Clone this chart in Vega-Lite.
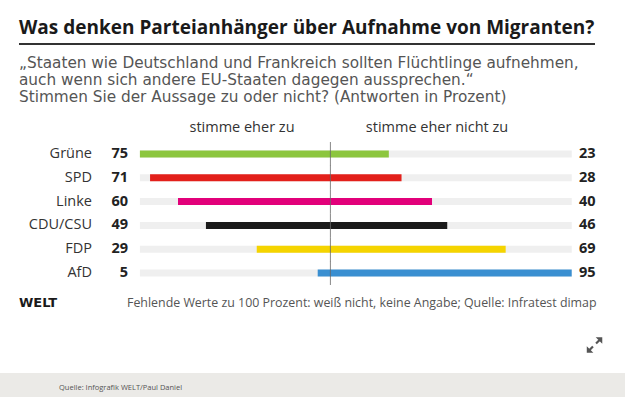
{
  "$schema": "https://vega.github.io/schema/vega-lite/v6.json",
  "width": 625,
  "height": 397,
  "autosize": {"type": "fit", "contains": "padding"},
  "padding": 0,
  "background": "white",
  "config": {"view": {"stroke": null}, "axis": {"disable": true}, "legend": {"disable": true}, "text": {"font": "Open Sans"}},
  "data": {"values": [
    {"party": "Grüne", "zu": 75, "nicht": 23},
    {"party": "SPD", "zu": 71, "nicht": 28},
    {"party": "Linke", "zu": 60, "nicht": 40},
    {"party": "CDU/CSU", "zu": 49, "nicht": 46},
    {"party": "FDP", "zu": 29, "nicht": 69},
    {"party": "AfD", "zu": 5, "nicht": 95}
  ]},
  "resolve": {"scale": {"x": "independent"}},
  "layer": [
    {
      "mark": {"type": "bar", "height": 7, "color": "#efefef"},
      "encoding": {
        "x": {"datum": -75, "type": "quantitative", "scale": {"domain": [-130.08, 115.98]}},
        "x2": {"datum": 95},
        "y": {"field": "party", "type": "nominal", "scale": {"type": "band", "domain": ["Grüne", "SPD", "Linke", "CDU/CSU", "FDP", "AfD"], "range": [142.1, 284.9], "paddingInner": 0, "paddingOuter": 0}}
      }
    },
    {
      "mark": {"type": "bar", "height": 7},
      "encoding": {
        "x": {"field": "nicht", "type": "quantitative", "scale": {"domain": [-130.08, 115.98]}},
        "y": {"field": "party", "type": "nominal"},
        "color": {"field": "party", "type": "nominal", "scale": {"domain": ["Grüne", "SPD", "Linke", "CDU/CSU", "FDP", "AfD"], "range": ["#8cc63e", "#e3201b", "#e2007a", "#1a1a1a", "#f5d400", "#3a8fd1"]}}
      }
    },
    {
      "mark": {"type": "bar", "height": 7},
      "encoding": {
        "x": {"field": "zu", "type": "quantitative", "scale": {"domain": [-115.98, 130.08], "reverse": true}},
        "y": {"field": "party", "type": "nominal"},
        "color": {"field": "party", "type": "nominal"}
      }
    },
    {
      "mark": {"type": "tick", "orient": "vertical", "size": 23.9, "thickness": 1, "color": "#555555"},
      "encoding": {
        "x": {"datum": 0, "type": "quantitative", "scale": {"domain": [-130.08, 115.98]}},
        "y": {"field": "party", "type": "nominal"}
      }
    },
    {
      "mark": {"type": "text", "align": "right", "baseline": "middle", "fontSize": 14.5, "color": "#333333"},
      "encoding": {
        "x": {"datum": -93.86, "type": "quantitative", "scale": {"domain": [-130.08, 115.98]}},
        "y": {"field": "party", "type": "nominal"},
        "text": {"field": "party"}
      }
    },
    {
      "mark": {"type": "text", "align": "right", "baseline": "middle", "fontSize": 14.5, "fontWeight": "bold", "color": "#222222"},
      "encoding": {
        "x": {"datum": -79.69, "type": "quantitative", "scale": {"domain": [-130.08, 115.98]}},
        "y": {"field": "party", "type": "nominal"},
        "text": {"field": "zu"}
      }
    },
    {
      "mark": {"type": "text", "align": "left", "baseline": "middle", "fontSize": 14.5, "fontWeight": "bold", "color": "#222222"},
      "encoding": {
        "x": {"datum": 97.87, "type": "quantitative", "scale": {"domain": [-130.08, 115.98]}},
        "y": {"field": "party", "type": "nominal"},
        "text": {"field": "nicht"}
      }
    },
    {
      "data": {"values": [{}]},
      "mark": {"type": "text", "align": "center", "baseline": "middle", "fontSize": 14.5, "color": "#333333", "dy": -26, "text": "stimme eher zu"},
      "encoding": {
        "x": {"datum": -34.8, "type": "quantitative", "scale": {"domain": [-130.08, 115.98]}},
        "y": {"datum": "Grüne", "type": "nominal"}
      }
    },
    {
      "data": {"values": [{}]},
      "mark": {"type": "text", "align": "center", "baseline": "middle", "fontSize": 14.5, "color": "#333333", "dy": -26, "text": "stimme eher nicht zu"},
      "encoding": {
        "x": {"datum": 41.97, "type": "quantitative", "scale": {"domain": [-130.08, 115.98]}},
        "y": {"datum": "Grüne", "type": "nominal"}
      }
    },
    {
      "data": {"values": [{}]},
      "mark": {"type": "text", "align": "left", "baseline": "alphabetic", "fontSize": 19, "fontWeight": "bold", "color": "#1a1a1a", "dy": -120, "text": "Was denken Parteianhänger über Aufnahme von Migranten?"},
      "encoding": {
        "x": {"datum": -122.6, "type": "quantitative", "scale": {"domain": [-130.08, 115.98]}},
        "y": {"datum": "Grüne", "type": "nominal"}
      }
    },
    {
      "data": {"values": [{}]},
      "mark": {"type": "rule", "strokeWidth": 2, "color": "#333333", "yOffset": -110},
      "encoding": {
        "x": {"datum": -122.6, "type": "quantitative", "scale": {"domain": [-130.08, 115.98]}},
        "x2": {"datum": 104.17},
        "y": {"datum": "Grüne", "type": "nominal"}
      }
    },
    {
      "data": {"values": [{}]},
      "mark": {"type": "text", "align": "left", "baseline": "alphabetic", "font": "DejaVu Sans", "fontSize": 15.3, "lineHeight": 16.8, "color": "#555555", "dy": -86, "text": ["„Staaten wie Deutschland und Frankreich sollten Flüchtlinge aufnehmen,", "auch wenn sich andere EU-Staaten dagegen aussprechen.“", "Stimmen Sie der Aussage zu oder nicht? (Antworten in Prozent)"]},
      "encoding": {
        "x": {"datum": -122.6, "type": "quantitative", "scale": {"domain": [-130.08, 115.98]}},
        "y": {"datum": "Grüne", "type": "nominal"}
      }
    },
    {
      "data": {"values": [{}]},
      "mark": {"type": "text", "align": "left", "baseline": "middle", "fontSize": 13, "fontWeight": 900, "font": "DejaVu Sans", "color": "#1a1a1a", "dy": 30, "text": "WELT"},
      "encoding": {
        "x": {"datum": -122.6, "type": "quantitative", "scale": {"domain": [-130.08, 115.98]}},
        "y": {"datum": "AfD", "type": "nominal"}
      }
    },
    {
      "data": {"values": [{}]},
      "mark": {"type": "text", "align": "left", "baseline": "middle", "fontSize": 12.4, "color": "#555555", "dy": 30, "text": "Fehlende Werte zu 100 Prozent: weiß nicht, keine Angabe; Quelle: Infratest dimap"},
      "encoding": {
        "x": {"datum": -80.08, "type": "quantitative", "scale": {"domain": [-130.08, 115.98]}},
        "y": {"datum": "AfD", "type": "nominal"}
      }
    },
    {
      "data": {"values": [{}]},
      "mark": {"type": "point", "filled": true, "opacity": 1, "size": 240, "color": "#555555", "yOffset": 72, "shape": "M0.15,-1L1,-1L1,-0.15Z M0.55,-0.75L0.75,-0.55L0.3,-0.1L0.1,-0.3Z M-0.15,1L-1,1L-1,0.15Z M-0.55,0.75L-0.75,0.55L-0.3,0.1L-0.1,0.3Z"},
      "encoding": {
        "x": {"datum": 103.98, "type": "quantitative", "scale": {"domain": [-130.08, 115.98]}},
        "y": {"datum": "AfD", "type": "nominal"}
      }
    },
    {
      "data": {"values": [{}]},
      "mark": {"type": "bar", "height": 24, "color": "#ebeae7", "yOffset": 112},
      "encoding": {
        "x": {"datum": -130.08, "type": "quantitative", "scale": {"domain": [-130.08, 115.98]}},
        "x2": {"datum": 115.98},
        "y": {"datum": "AfD", "type": "nominal"}
      }
    },
    {
      "data": {"values": [{}]},
      "mark": {"type": "text", "align": "left", "baseline": "middle", "fontSize": 7.5, "color": "#555555", "dy": 115, "text": "Quelle: Infografik WELT/Paul Daniel"},
      "encoding": {
        "x": {"datum": -106.85, "type": "quantitative", "scale": {"domain": [-130.08, 115.98]}},
        "y": {"datum": "AfD", "type": "nominal"}
      }
    }
  ]
}
